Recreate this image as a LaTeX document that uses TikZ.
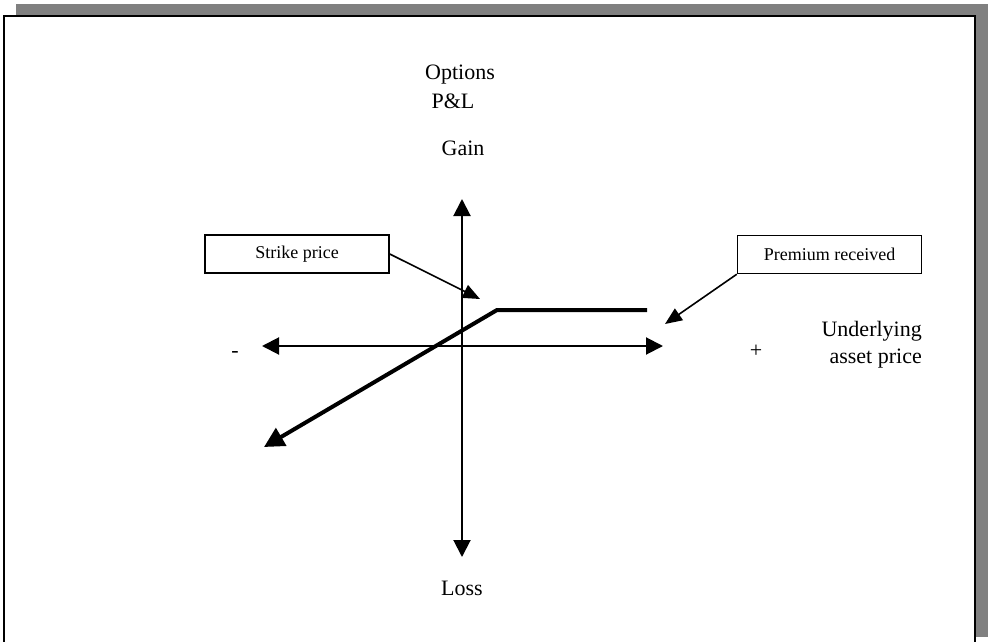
\documentclass[tikz,border=0pt]{standalone}
\usepackage{fontspec}
\setmainfont{Liberation Serif}
\usetikzlibrary{arrows.meta}
\begin{document}
\begin{tikzpicture}[x=1pt,y=-1pt,
  lbl/.style={font=\fontsize{22}{26}\selectfont, inner sep=0pt, anchor=base},
  callout/.style={draw, line width=1.5pt, font=\fontsize{18}{21}\selectfont,
    minimum width=184pt, minimum height=38pt, inner sep=0pt},
  axistip/.tip={Triangle[length=17pt,width=17pt]},
  axis/.style={line width=2pt, axistip-axistip},
  payoff/.style={line width=4pt, -{Triangle[length=20pt,width=20pt]}},
  pointer/.style={line width=1.6pt, -{Triangle[length=17pt,width=14pt]}}
]
\useasboundingbox (0,0) rectangle (988,642);
% shadow and frame
\fill[fill={rgb,255:red,128;green,128;blue,128}] (16,4) rectangle (988,637);
\draw[line width=2pt, fill=white] (4,16) rectangle (975,650);

% axes
\coordinate (xl) at (262,346);
\coordinate (xr) at (663,346);
\coordinate (yt) at (462,199);
\coordinate (yb) at (462,557);
\draw[axis] (xl) -- (xr);
\draw[axis] (yt) -- (yb);

% payoff
\coordinate (pr) at (647,310);
\coordinate (pk) at (497,310);
\coordinate (pt) at (264,447);
\draw[payoff, line join=miter] (pr) -- (pk) -- (pt);

% labels
\node[lbl] (opt) at (460,80) {Options};
\node[lbl] (pl) at (453,108) {P\&L};
\node[lbl] (gain) at (463,155) {Gain};
\node[lbl] (loss) at (462,595) {Loss};
\node[lbl] (minus) at (235,357) {-};
\node[lbl] (plus) at (756,357) {+};
\node[lbl, anchor=base east] (und) at (922,336) {Underlying};
\node[lbl, anchor=base east] (asp) at (922,363) {asset price};

% callouts
\node[callout] (strike) at (297,254) {Strike price};
\node[callout] (prem) at (829.5,254.5) {Premium received};
\coordinate (st) at (480,299);
\coordinate (pmt) at (665,324);
\draw[pointer] (strike.east) -- (st);
\draw[pointer] (prem.south west) -- (pmt);
\end{tikzpicture}
\end{document}
